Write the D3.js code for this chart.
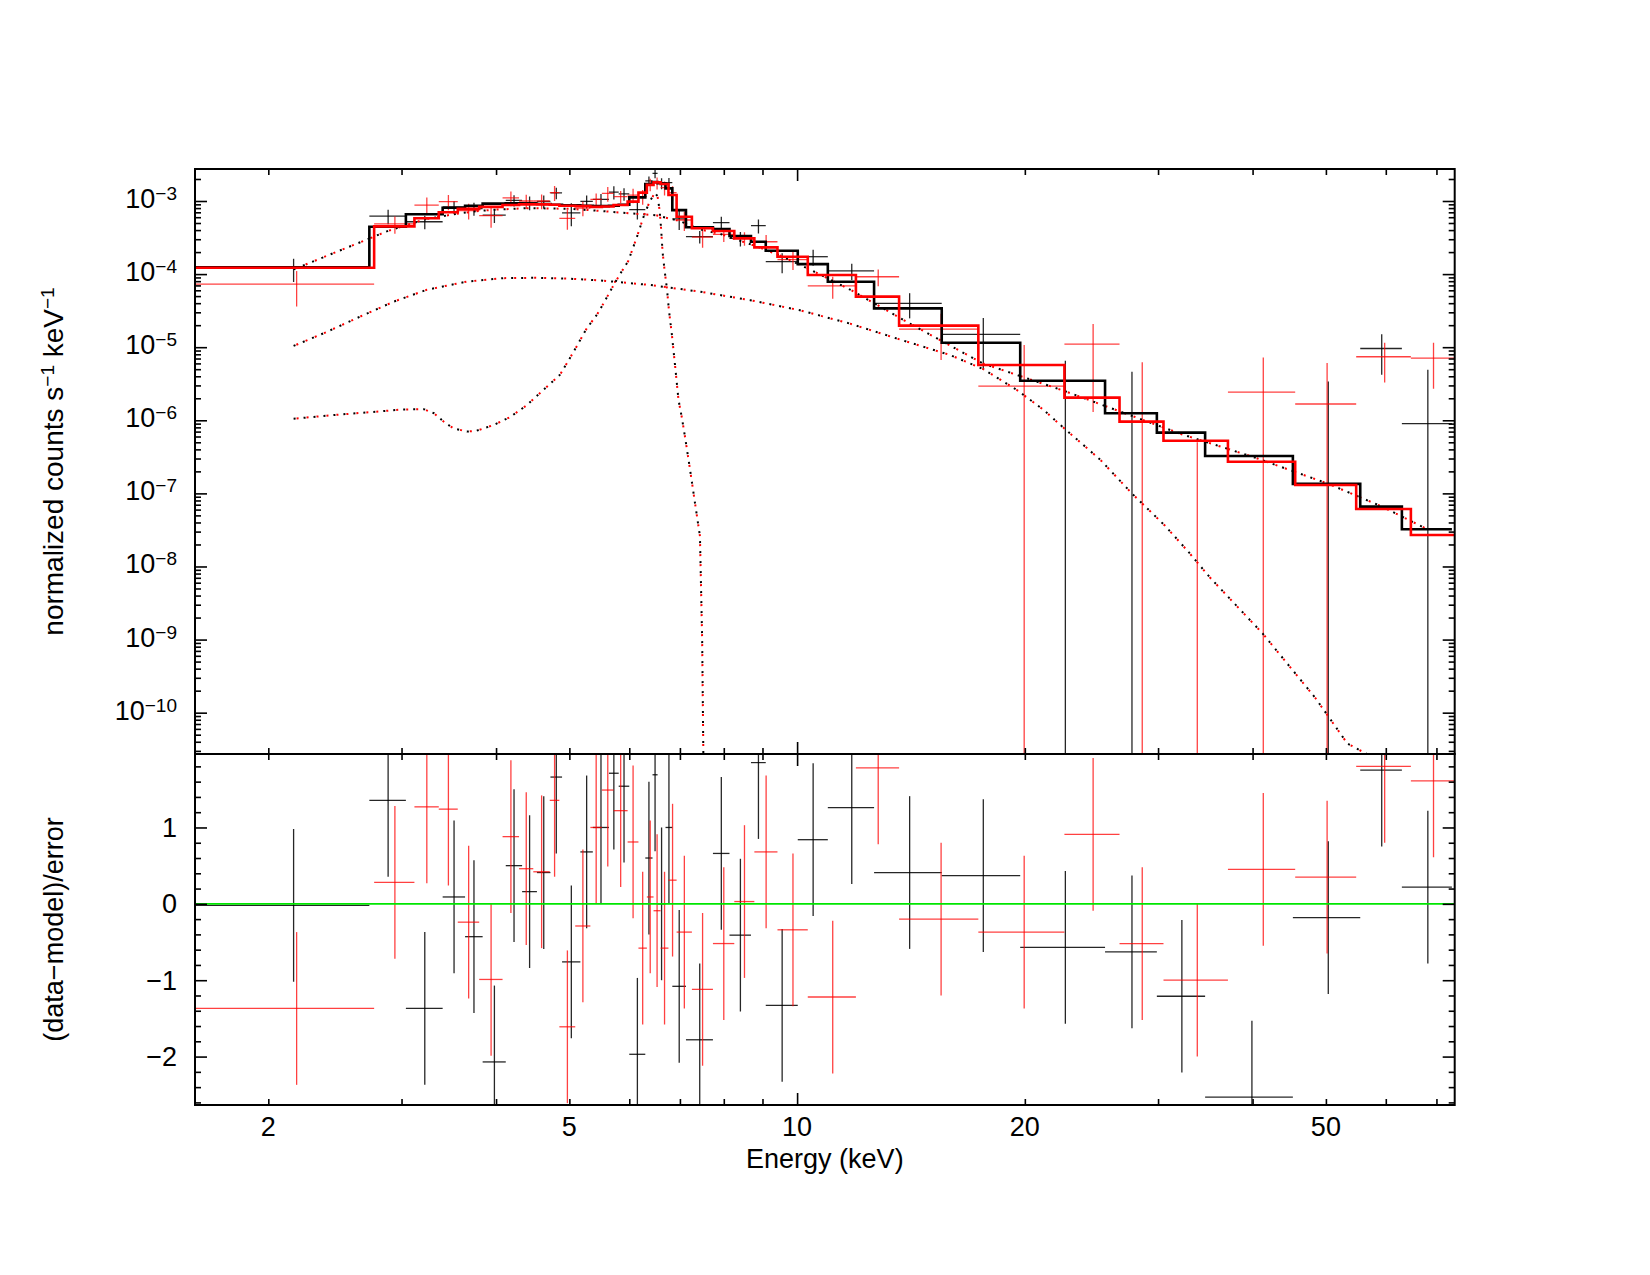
<!DOCTYPE html>
<html>
<head>
<meta charset="utf-8">
<script src="https://cdn.jsdelivr.net/npm/d3@7"></script>
<style>
  body { margin: 0; background: #fff; }
  svg { display: block; font-family: "Liberation Sans", Arial, Helvetica, sans-serif; }
  .tick path, .domain { display: none; }
  .ax line { stroke: #000; stroke-width: 1.6; }
  .lbl { font-size: 27px; fill: #000; }
</style>
</head>
<body>
<svg id="chart" width="1650" height="1275"></svg>
<script>
// plot ranges
const xDomain = [1.6, 74.0];
const ySpecDomain = [2.72e-11, 2.74e-3];
const yResDomain = [-2.634, 1.962];

// tick labels
const xTickLabels = [2, 5, 10, 20, 50];
const yExponents = [-10, -9, -8, -7, -6, -5, -4, -3];
const resTickLabels = [-2, -1, 0, 1];

// spectrum 1 (black): bin edges (keV), folded model, data, 1-sigma error, residual
const edges1 = [1.60, 2.72, 3.04, 3.40, 3.64, 3.84, 4.12, 4.33, 4.53, 4.72, 4.89, 5.17, 5.37, 5.64, 5.81, 6.00, 6.30, 6.44, 6.54, 6.70, 6.84, 7.13, 7.74, 8.14, 8.69, 9.09, 10.02, 10.98, 12.64, 15.53, 19.72, 25.53, 29.89, 34.62, 45.22, 55.51, 63.01, 73.37];
const model1 = [1.24e-4, 4.45e-4, 6.6e-4, 8.1e-4, 8.6e-4, 9.2e-4, 9.3e-4, 9.2e-4, 9.1e-4, 8.9e-4, 8.7e-4, 8.6e-4, 8.5e-4, 8.6e-4, 8.9e-4, 1.12e-3, 1.71e-3, 1.82e-3, 1.75e-3, 1.49e-3, 7.5e-4, 4.37e-4, 4.14e-4, 3.32e-4, 2.77e-4, 2.09e-4, 1.37e-4, 7.87e-5, 3.40e-5, 1.15e-5, 3.48e-6, 1.25e-6, 6.77e-7, 3.25e-7, 1.35e-7, 6.58e-8, 3.23e-8];
const data1 = [1.2e-4, 6.2e-4, 5.2e-4, 8.3e-4, 7.9e-4, 6.4e-4, 1.02e-3, 9.5e-4, 9.9e-4, 1.29e-3, 6.9e-4, 9.9e-4, 1.05e-3, 1.32e-3, 1.25e-3, 7.6e-4, 1.88e-3, 2.38e-3, 1.75e-3, 1.78e-3, 5.7e-4, 3.25e-4, 5.06e-4, 3.08e-4, 4.6e-4, 1.48e-4, 1.73e-4, 1.11e-4, 3.98e-5, 1.5e-5, -5.0e-7, -4.5e-6, -9.0e-6, -1.0e-5, -5.8e-7, 9.6e-6, 9.0e-7];
const err1 = [4.2e-5, 1.4e-4, 1.1e-4, 1.6e-4, 1.6e-4, 1.4e-4, 1.8e-4, 2.0e-4, 2.0e-4, 2.3e-4, 2.4e-4, 2.0e-4, 2.0e-4, 2.7e-4, 2.4e-4, 2.0e-4, 2.8e-4, 3.3e-4, 3.0e-4, 2.9e-4, 1.7e-4, 6.3e-5, 1.05e-4, 7.0e-5, 1.0e-4, 4.5e-5, 4.3e-5, 2.8e-5, 1.5e-5, 1.0e-5, 7.0e-6, 9.1e-6, 8.0e-6, 4.1e-6, 3.96e-6, 5.4e-6, 4.0e-6];
const resid1 = [-0.02, 1.355, -1.37, 0.09, -0.43, -2.07, 0.50, 0.16, 0.41, 1.66, -0.76, 0.68, 1.0, 1.71, 1.54, -1.97, 0.60, 1.69, 0.0, 1.0, -1.08, -1.78, 0.66, -0.41, 1.85, -1.33, 0.84, 1.26, 0.41, 0.37, -0.57, -0.63, -1.21, -2.53, -0.18, 1.75, 0.22];

// spectrum 2 (red)
const edges2 = [1.60, 2.76, 3.12, 3.36, 3.56, 3.80, 4.08, 4.29, 4.48, 4.71, 4.85, 5.09, 5.33, 5.52, 5.72, 5.97, 6.17, 6.33, 6.46, 6.60, 6.76, 6.93, 7.26, 7.74, 8.26, 8.78, 9.42, 10.33, 11.96, 13.64, 17.36, 22.56, 26.68, 30.50, 37.11, 45.54, 54.83, 64.76, 74.0];
const model2 = [1.22e-4, 4.5e-4, 5.8e-4, 7.0e-4, 7.8e-4, 8.3e-4, 8.8e-4, 9.0e-4, 9.0e-4, 8.9e-4, 8.6e-4, 8.5e-4, 8.3e-4, 8.4e-4, 8.8e-4, 9.8e-4, 1.3e-3, 1.66e-3, 1.8e-3, 1.71e-3, 1.21e-3, 6.1e-4, 4.23e-4, 3.88e-4, 3.08e-4, 2.32e-4, 1.73e-4, 9.73e-5, 4.91e-5, 1.97e-5, 5.70e-6, 2.04e-6, 9.58e-7, 5.26e-7, 2.71e-7, 1.30e-7, 6.12e-8, 2.70e-8];
const data2 = [7.3e-5, 4.85e-4, 8.8e-4, 9.8e-4, 7.4e-4, 6.3e-4, 1.1e-3, 1.0e-3, 1.0e-3, 1.3e-3, 5.8e-4, 8.0e-4, 1.05e-3, 1.27e-3, 1.15e-3, 1.2e-3, 1.15e-3, 1.69e-3, 1.77e-3, 1.52e-3, 1.30e-3, 5.5e-4, 3.2e-4, 3.5e-4, 3.1e-4, 2.77e-4, 1.58e-4, 6.9e-5, 9.2e-5, 1.77e-5, 2.94e-6, 1.1e-5, -4.7e-6, -9.5e-6, 2.43e-6, 1.67e-6, 7.4e-6, 7.1e-6];
const err2 = [3.7e-5, 1.3e-4, 2.4e-4, 2.3e-4, 1.8e-4, 2.0e-4, 2.5e-4, 2.2e-4, 2.3e-4, 3.0e-4, 1.75e-4, 1.8e-4, 2.2e-4, 2.9e-4, 2.2e-4, 2.7e-4, 2.6e-4, 3.3e-4, 3.3e-4, 3.3e-4, 2.9e-4, 1.6e-4, 9.0e-5, 7.5e-5, 6.5e-5, 6.6e-5, 4.4e-5, 2.3e-5, 2.4e-5, 1.1e-5, 7.8e-6, 9.7e-6, 1.09e-5, 1.0e-5, 4.8e-6, 4.4e-6, 4.1e-6, 4.4e-6];
const resid2 = [-1.37, 0.28, 1.27, 1.24, -0.24, -0.99, 0.88, 0.46, 0.42, 1.355, -1.61, -0.29, 1.0, 1.49, 1.22, 0.81, -0.58, 0.09, -0.09, -0.58, 0.31, -0.37, -1.12, -0.52, 0.03, 0.68, -0.34, -1.22, 1.78, -0.20, -0.37, 0.91, -0.52, -1.0, 0.45, 0.35, 1.80, 1.61];

// model components (dotted)
const contE = [2.16, 2.88, 3.22, 3.52, 3.74, 3.98, 4.43, 5.03, 5.50, 6.00, 6.50, 7.00, 7.43, 7.94, 8.41, 8.89, 9.55, 10.5, 11.8, 14.1, 17.6, 22.6, 27.7, 32.3, 39.9, 50.4, 59.3, 68.2];
const contV = [1.16e-4, 3.9e-4, 5.6e-4, 6.6e-4, 7.2e-4, 7.6e-4, 8.0e-4, 7.8e-4, 7.3e-4, 6.8e-4, 6.4e-4, 5.3e-4, 4.1e-4, 3.5e-4, 2.85e-4, 2.35e-4, 1.75e-4, 1.1e-4, 6.0e-5, 2.1e-5, 6.0e-6, 2.5e-6, 1.15e-6, 6.4e-7, 3.2e-7, 1.35e-7, 6.6e-8, 3.2e-8];
const bumpE = [2.16, 2.39, 2.64, 2.93, 3.24, 3.66, 4.09, 4.48, 4.96, 5.49, 6.39, 7.44, 8.67, 10.09, 11.75, 13.69, 15.94, 17.63, 19.52, 21.15, 22.47, 25.15, 27.70, 30.65, 32.88, 35.16, 41.28, 48.40, 53.36, 59.9];
const bumpV = [1.04e-5, 1.62e-5, 2.6e-5, 4.2e-5, 6.1e-5, 7.9e-5, 8.8e-5, 8.9e-5, 8.7e-5, 8.2e-5, 7.1e-5, 5.75e-5, 4.4e-5, 3.2e-5, 2.1e-5, 1.27e-5, 7.8e-6, 5.0e-6, 2.6e-6, 1.4e-6, 8.0e-7, 2.9e-7, 1.0e-7, 3.6e-8, 1.6e-8, 7.0e-9, 1.2e-9, 1.6e-10, 3.8e-11, 5e-12];
const lineE = [2.16, 2.44, 2.75, 2.99, 3.21, 3.31, 3.41, 3.51, 3.66, 3.77, 3.97, 4.17, 4.39, 4.62, 4.86, 5.06, 5.27, 5.44, 5.55, 5.69, 5.84, 5.98, 6.14, 6.28, 6.39, 6.49, 6.54, 6.58, 6.61, 6.64, 6.68, 6.73, 6.77, 6.83, 6.90, 6.97, 7.04, 7.11, 7.22, 7.33, 7.44, 7.49, 7.52];
const lineV = [1.05e-6, 1.18e-6, 1.3e-6, 1.4e-6, 1.42e-6, 1.25e-6, 9.6e-7, 7.8e-7, 7.0e-7, 7.2e-7, 8.6e-7, 1.1e-6, 1.6e-6, 2.6e-6, 4.2e-6, 8.5e-6, 1.8e-5, 2.8e-5, 4.0e-5, 6.4e-5, 1.02e-4, 1.5e-4, 3.2e-4, 6.5e-4, 1.0e-3, 1.3e-3, 1.15e-3, 7.5e-4, 4.2e-4, 2.0e-4, 1.14e-4, 6.2e-5, 3.2e-5, 1.5e-5, 5.4e-6, 1.9e-6, 1.1e-6, 5.9e-7, 2.1e-7, 7.3e-8, 2.6e-8, 1.0e-9, 1.0e-11];

const L = 195, R = 1454.7, T = 169, M = 754, B = 1105;
const svg = d3.select("#chart");

let x = d3.scaleLog().domain(xDomain).range([L, R]);
let yS = d3.scaleLog().domain(ySpecDomain).range([M, T]);
let yR = d3.scaleLinear().domain(yResDomain).range([B, M]);

let defs = svg.append("defs");
defs.append("clipPath").attr("id", "clipTop").append("rect")
  .attr("x", L).attr("y", T).attr("width", R - L).attr("height", M - T);
defs.append("clipPath").attr("id", "clipBot").append("rect")
  .attr("x", L).attr("y", M).attr("width", R - L).attr("height", B - M);

let gTop = svg.append("g").attr("clip-path", "url(#clipTop)");
let gBot = svg.append("g").attr("clip-path", "url(#clipBot)");

function ySafe(v) {
  return v > ySpecDomain[0] ? yS(v) : M + 10;
}

function drawCrosses(g, edges, vals, errs, color, op) {
  let segs = [];
  vals.forEach(function (v, i) {
    let lo = edges[i], hi = edges[i + 1], c = (lo + hi) / 2;
    if (v > ySpecDomain[0]) segs.push([x(lo), yS(v), x(hi), yS(v)]);
    let t = v + errs[i], b = v - errs[i];
    if (t > ySpecDomain[0]) segs.push([x(c), yS(t), x(c), ySafe(b)]);
  });
  g.append("g").selectAll("line").data(segs).join("line")
    .attr("x1", d => d[0]).attr("y1", d => d[1])
    .attr("x2", d => d[2]).attr("y2", d => d[3])
    .attr("stroke", color).attr("stroke-width", 1.3).attr("stroke-opacity", op);
}

function drawResid(g, edges, vals, color, op) {
  let segs = [];
  vals.forEach(function (r, i) {
    let lo = edges[i], hi = edges[i + 1], c = (lo + hi) / 2;
    segs.push([x(lo), yR(r), x(hi), yR(r)]);
    segs.push([x(c), yR(r + 1), x(c), yR(r - 1)]);
  });
  g.append("g").selectAll("line").data(segs).join("line")
    .attr("x1", d => d[0]).attr("y1", d => d[1])
    .attr("x2", d => d[2]).attr("y2", d => d[3])
    .attr("stroke", color).attr("stroke-width", 1.3).attr("stroke-opacity", op);
}

let stepLine = d3.line().x(d => x(d[0])).y(d => ySafe(d[1])).curve(d3.curveStepAfter);
function drawModel(g, edges, vals, color, w) {
  let pts = vals.map((v, i) => [edges[i], v]);
  pts.push([edges[edges.length - 1], vals[vals.length - 1]]);
  g.append("path").attr("d", stepLine(pts))
    .attr("fill", "none").attr("stroke", color).attr("stroke-width", w);
}

let compLine = d3.line().x(d => x(d[0])).y(d => ySafe(d[1]));
function drawComp(g, es, vs) {
  let pts = es.map((e, i) => [e, vs[i]]);
  g.append("path").attr("d", compLine(pts)).attr("fill", "none")
    .attr("stroke", "#000").attr("stroke-width", 2).attr("stroke-dasharray", "2 8");
  g.append("path").attr("d", compLine(pts)).attr("fill", "none")
    .attr("stroke", "#f00").attr("stroke-width", 2).attr("stroke-dasharray", "2 8")
    .attr("stroke-dashoffset", -3);
}

// upper panel
drawCrosses(gTop, edges1, data1, err1, "#000", 0.85);
drawCrosses(gTop, edges2, data2, err2, "#f00", 0.75);
drawComp(gTop, contE, contV);
drawComp(gTop, bumpE, bumpV);
drawComp(gTop, lineE, lineV);
drawModel(gTop, edges1, model1, "#000", 2.6);
drawModel(gTop, edges2, model2, "#f00", 2.6);

// lower panel
drawResid(gBot, edges1, resid1, "#000", 0.85);
drawResid(gBot, edges2, resid2, "#f00", 0.75);
gBot.append("line").attr("x1", L).attr("x2", R).attr("y1", yR(0)).attr("y2", yR(0))
  .attr("stroke", "#00e600").attr("stroke-width", 1.6);

// ticks
let xMinor = [], yMinor = [];
for (let n = 0; n <= 1; n++) for (let k = 2; k <= 9; k++) {
  let v = k * Math.pow(10, n);
  if (v > xDomain[0] && v < xDomain[1]) xMinor.push(v);
}
for (let n = -11; n <= -3; n++) for (let k = 2; k <= 9; k++) {
  let v = k * Math.pow(10, n);
  if (v > ySpecDomain[0] && v < ySpecDomain[1]) yMinor.push(v);
}
let yMajor = yExponents.map(e => Math.pow(10, e));
let rMinor = d3.range(-26, 20, 2).map(v => v / 10).filter(v => Math.abs(v - Math.round(v)) > 0.01);

function ax(gen, tr, vals, size) {
  svg.append("g").attr("class", "ax").attr("transform", tr)
    .call(gen.tickValues(vals).tickSize(size).tickFormat(""));
}
[[x, [10], -12], [x, xMinor, -6]].forEach(function (a) {
  ax(d3.axisTop(a[0]), `translate(0,${T})`, a[1], a[2]);
  ax(d3.axisBottom(a[0]), `translate(0,${M})`, a[1], a[2]);
  ax(d3.axisTop(a[0]), `translate(0,${M})`, a[1], a[2]);
  ax(d3.axisBottom(a[0]), `translate(0,${B})`, a[1], a[2]);
});
[[yS, yMajor, -12], [yS, yMinor, -6], [yR, resTickLabels, -12], [yR, rMinor, -6]].forEach(function (a) {
  ax(d3.axisLeft(a[0]), `translate(${L},0)`, a[1], a[2]);
  ax(d3.axisRight(a[0]), `translate(${R},0)`, a[1], a[2]);
});

// frames
[[T, M], [M, B]].forEach(function (p) {
  svg.append("rect").attr("x", L).attr("y", p[0]).attr("width", R - L).attr("height", p[1] - p[0])
    .attr("fill", "none").attr("stroke", "#000").attr("stroke-width", 2);
});

// tick labels
svg.append("g").selectAll("text").data(xTickLabels).join("text")
  .attr("class", "lbl").attr("x", d => x(d)).attr("y", B + 31)
  .attr("text-anchor", "middle").text(d => d);

let yl = svg.append("g").selectAll("text").data(yExponents).join("text")
  .attr("class", "lbl").attr("x", 177).attr("y", d => yS(Math.pow(10, d)) + 7)
  .attr("text-anchor", "end");
yl.append("tspan").text("10");
yl.append("tspan").attr("dy", -8).style("font-size", "19px").text(d => "\u2212" + (-d));

svg.append("g").selectAll("text").data(resTickLabels).join("text")
  .attr("class", "lbl").attr("x", 177).attr("y", d => yR(d) + 9.5)
  .attr("text-anchor", "end").text(d => (d < 0 ? "\u2212" + (-d) : d));

// axis titles
svg.append("text").attr("class", "lbl").attr("x", (L + R) / 2).attr("y", 1168)
  .attr("text-anchor", "middle").text("Energy (keV)");

let t1 = svg.append("text").attr("class", "lbl").style("font-size", "28px").attr("text-anchor", "middle")
  .attr("transform", `translate(63,${(T + M) / 2}) rotate(-90)`);
t1.append("tspan").text("normalized counts s");
t1.append("tspan").attr("dy", -9).style("font-size", "19px").text("\u22121");
t1.append("tspan").attr("dy", 9).text(" keV");
t1.append("tspan").attr("dy", -9).style("font-size", "19px").text("\u22121");

svg.append("text").attr("class", "lbl").attr("text-anchor", "middle")
  .attr("transform", `translate(63,${(M + B) / 2}) rotate(-90)`)
  .text("(data\u2212model)/error");
</script>
</body>
</html>
